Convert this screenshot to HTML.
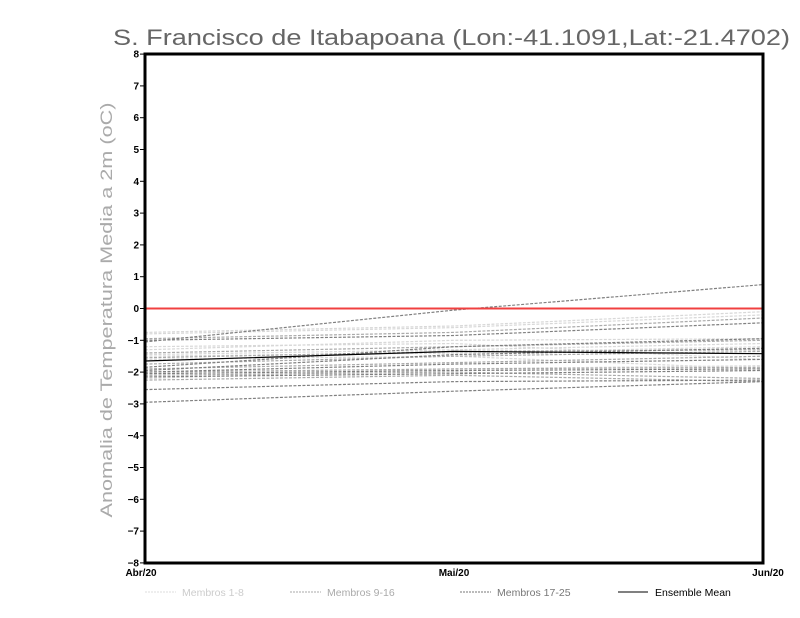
<!DOCTYPE html>
<html><head><meta charset="utf-8"><style>
html,body{margin:0;padding:0;background:#fff;}
svg{display:block;font-family:"Liberation Sans",sans-serif;}
</style></head><body>
<svg id="s" width="800" height="618" viewBox="0 0 800 618" xmlns="http://www.w3.org/2000/svg">
<rect width="800" height="618" fill="#fff"/>
<text x="113" y="45" font-size="22" fill="#666" textLength="677" lengthAdjust="spacingAndGlyphs">S. Francisco de Itabapoana (Lon:-41.1091,Lat:-21.4702)</text>
<text transform="translate(112,310) rotate(-90)" text-anchor="middle" font-size="17" fill="#aaa" textLength="415" lengthAdjust="spacingAndGlyphs">Anomalia de Temperatura Media a 2m (oC)</text>
<g id="lines"></g>
<line x1="145" y1="308.5" x2="763" y2="308.5" stroke="#f04040" stroke-width="2"/>
<g id="ticks" font-size="10" font-weight="bold" fill="#000" text-anchor="end"></g>
<rect x="145" y="54" width="618" height="509" fill="none" stroke="#000" stroke-width="3"/>
<g font-size="10" font-weight="bold" text-anchor="middle">
<text x="141" y="576">Abr/20</text>
<text x="454" y="576">Mai/20</text>
<text x="768" y="576">Jun/20</text>
</g>
<g font-size="10.5">
<line x1="145" y1="592" x2="176" y2="592" stroke="#ddd" stroke-dasharray="2,1"/>
<text x="182" y="596" fill="#ccc">Membros 1-8</text>
<line x1="290" y1="592" x2="321" y2="592" stroke="#aaa" stroke-dasharray="2,1"/>
<text x="327" y="596" fill="#aaa">Membros 9-16</text>
<line x1="460" y1="592" x2="491" y2="592" stroke="#777" stroke-dasharray="2,1"/>
<text x="497" y="596" fill="#777">Membros 17-25</text>
<line x1="618" y1="592" x2="648" y2="592" stroke="#000"/>
<text x="655" y="596" fill="#000">Ensemble Mean</text>
</g>
</svg>
<script>
var ns="http://www.w3.org/2000/svg";
function Y(v){return 308.5-v*31.8;}
var X=[145,454,763];
var L=[[-0.75,-0.55,-0.1],[-0.8,-0.6,-0.2],[-1.3,-1.0,-0.95],[-1.45,-1.3,-1.1],[-1.2,-1.1,-1.6],[-1.5,-1.4,-1.2],[-2.2,-1.9,-1.8],[-1.6,-1.5,-1.9]];
var M=[[-0.95,-0.75,-0.3],[-1.4,-1.2,-1.0],[-1.55,-1.35,-1.3],[-1.9,-1.7,-1.5],[-2.0,-1.9,-1.85],[-2.1,-2.0,-2.2],[-1.75,-1.5,-1.35],[-2.25,-2.1,-2.3]];
var D=[[-1.05,-0.05,0.75],[-1.0,-0.85,-0.45],[-1.85,-1.2,-0.95],[-1.95,-1.45,-1.25],[-2.05,-1.95,-1.9],[-2.15,-2.05,-1.95],[-2.55,-2.3,-2.25],[-2.95,-2.6,-2.3],[-2.0,-1.75,-1.6]];
var g=document.getElementById("lines");
function add(set,col,dash){set.forEach(function(a){var p=document.createElementNS(ns,"polyline");
p.setAttribute("points",a.map(function(v,i){return X[i]+","+Y(v).toFixed(1)}).join(" "));
p.setAttribute("fill","none");p.setAttribute("stroke",col);p.setAttribute("stroke-width","1.2");
if(dash)p.setAttribute("stroke-dasharray","3,1.5");g.appendChild(p);});}
add(L,"#d8d8d8",1);add(M,"#aaa",1);add(D,"#808080",1);
add([[-1.65,-1.35,-1.42]],"#000",0);
var t=document.getElementById("ticks");
for(var v=-8;v<=8;v++){var y=Y(v);
var tx=document.createElementNS(ns,"text");tx.setAttribute("x","139");tx.setAttribute("y",(y+3.5).toFixed(1));
tx.textContent=(v<0?"\u2212"+(-v):""+v);t.appendChild(tx);
var l=document.createElementNS(ns,"line");l.setAttribute("x1","140");l.setAttribute("x2","145");
l.setAttribute("y1",y);l.setAttribute("y2",y);l.setAttribute("stroke","#000");t.appendChild(l);}
</script>
</body></html>
